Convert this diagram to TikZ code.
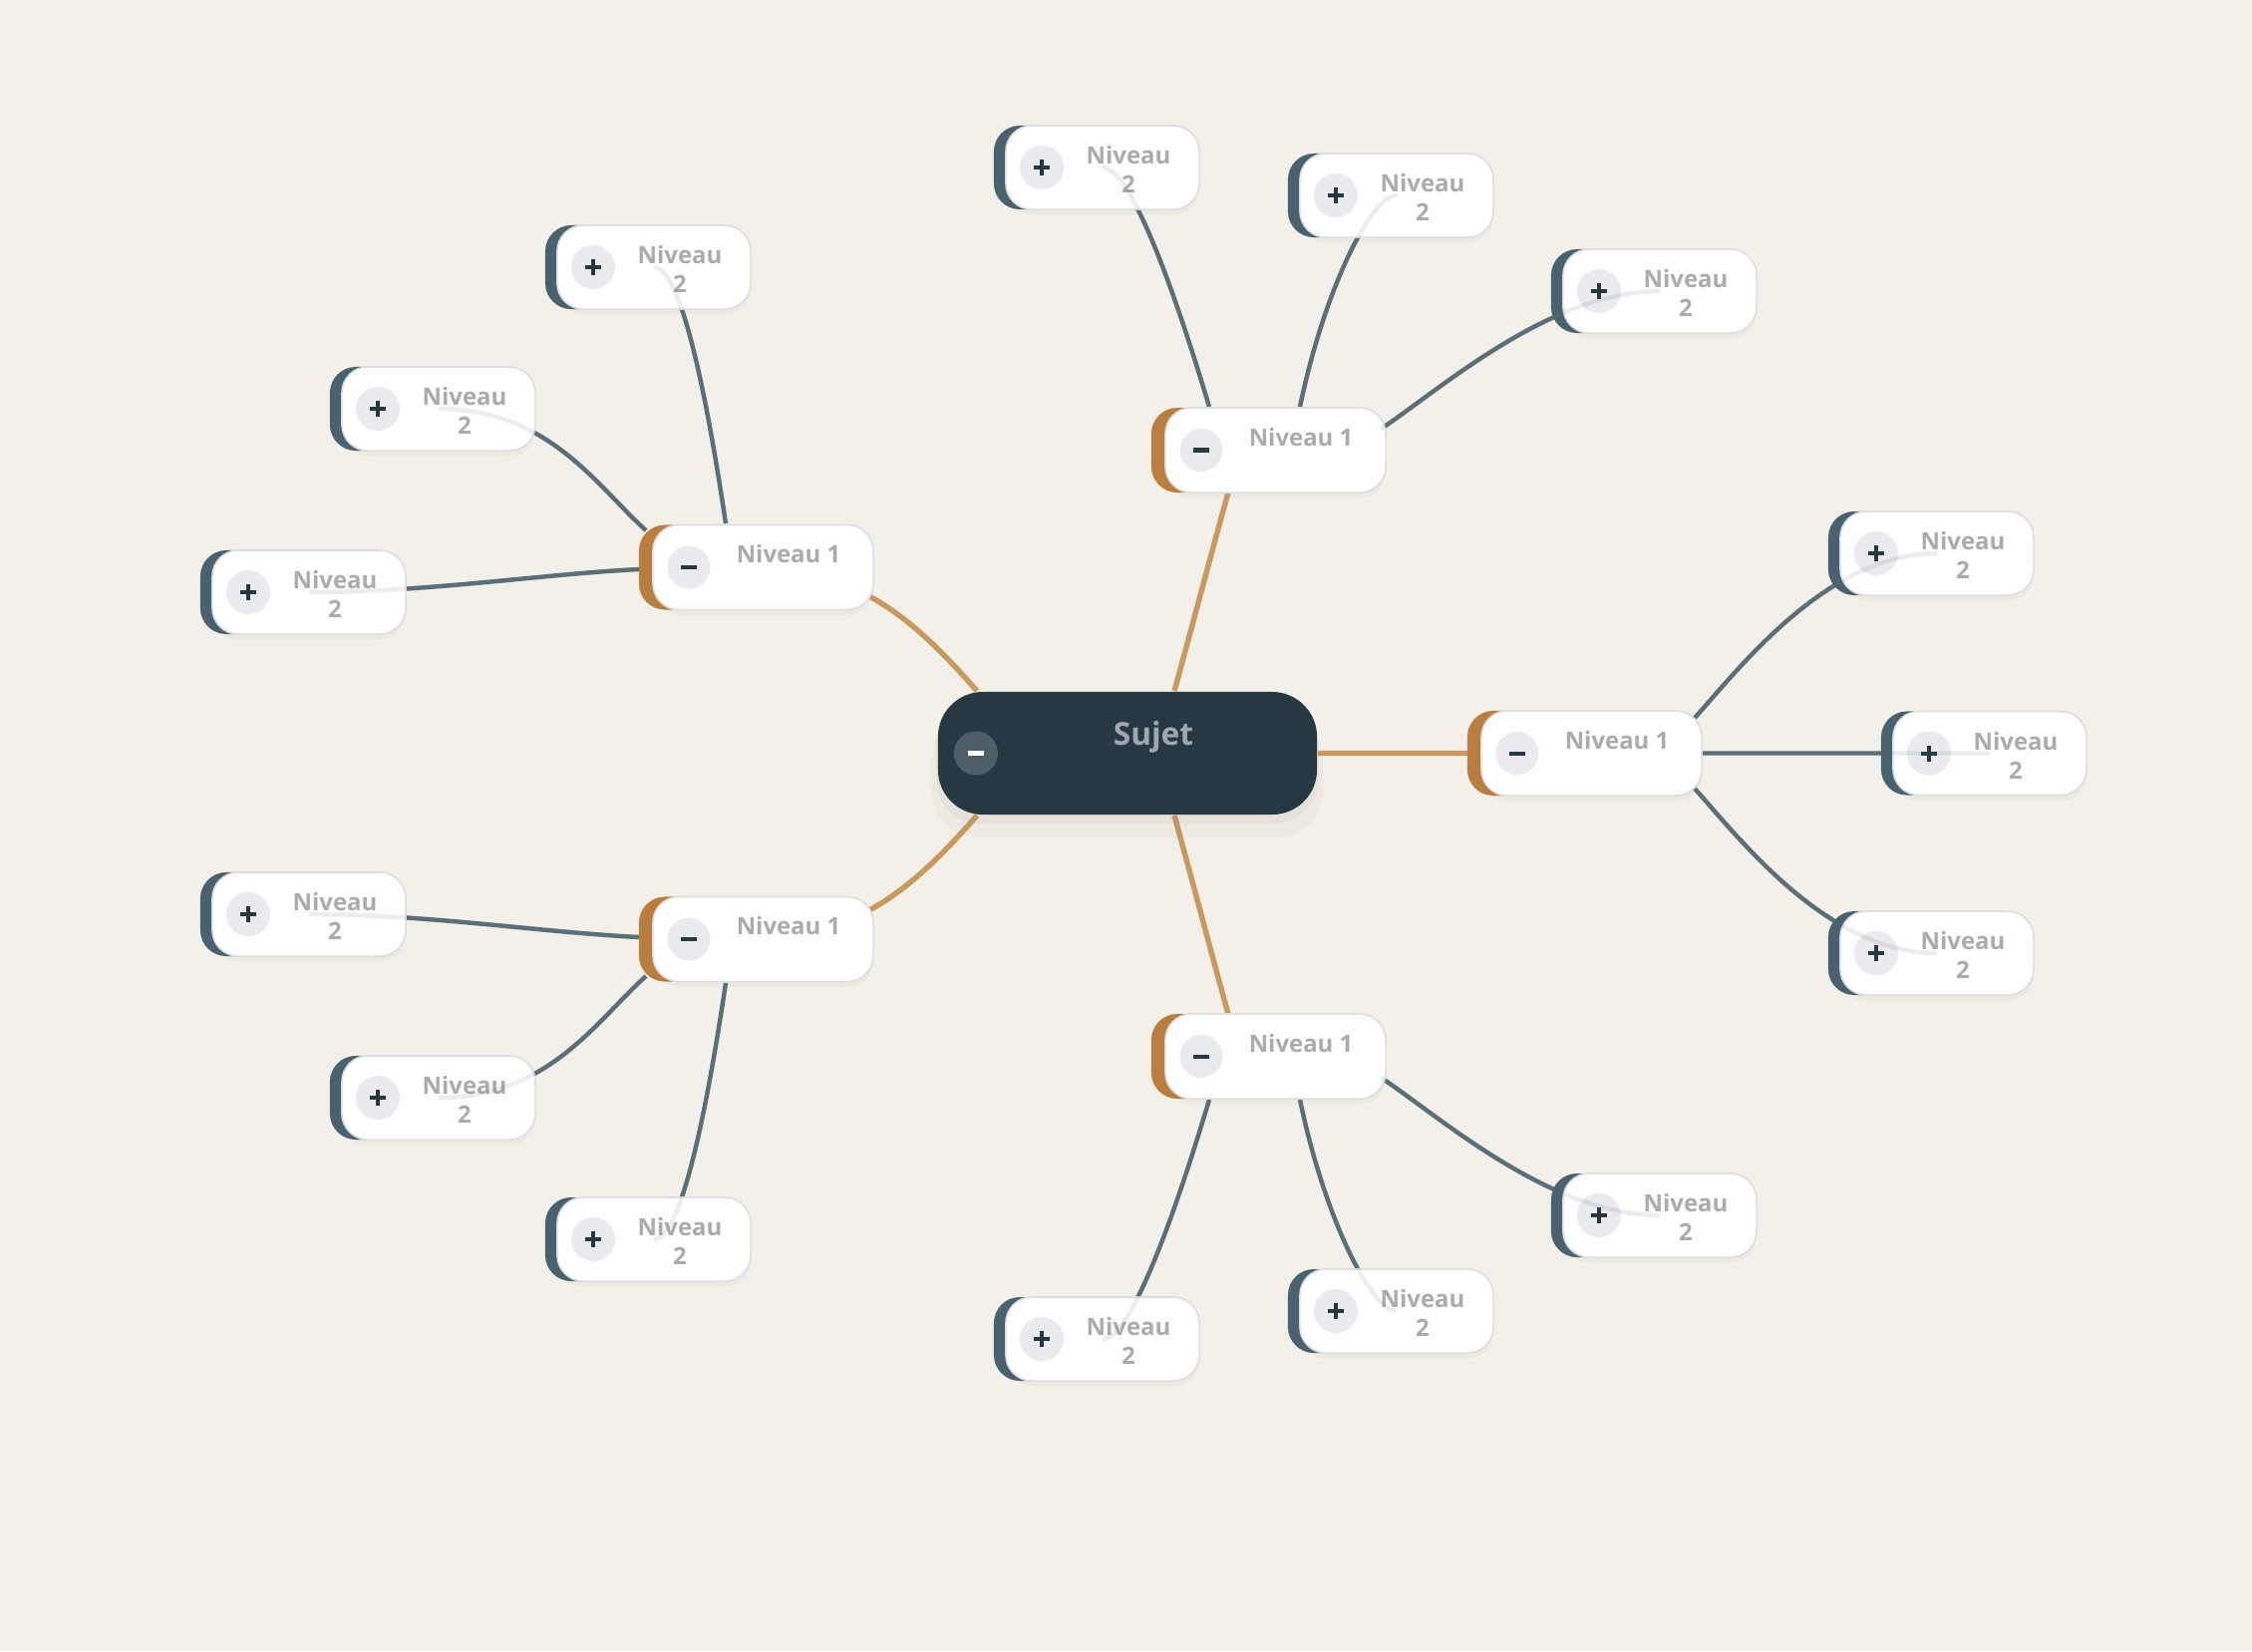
\documentclass[tikz,border=0pt]{standalone}
\usepackage{fontspec}
\setmainfont{Open Sans}
\usetikzlibrary{shadows,backgrounds}

\definecolor{fond}{HTML}{F3F0EA}
\definecolor{ardoise}{HTML}{4A626E}
\definecolor{lienardoise}{HTML}{5B6F79}
\definecolor{ocre}{HTML}{B97E3E}
\definecolor{lienocre}{HTML}{C99A60}
\definecolor{nuit}{HTML}{263842}
\definecolor{rondgris}{HTML}{E9EBEE}
\definecolor{rondsujet}{HTML}{4E5D66}
\definecolor{texte}{HTML}{ABABAB}
\definecolor{textesujet}{HTML}{A0A6AB}
\definecolor{bordure}{HTML}{DCDEE1}

% branches du niveau 1 vers le niveau 2
\newcommand{\liensdeux}{
  ([shift={(-66.5,-43.5)}]n1h.center) .. controls +(-30,-100) and +(30,0) .. (h1.center)
  ([shift={(24.5,-43.5)}]n1h.center) .. controls +(25,-120) and +(-25,0) .. (h2.center)
  ([shift={(106,-21.5)}]n1h.center) .. controls +(60,-40) and +(-110,0) .. (h3.center)
  ([shift={(-66.5,43.5)}]n1b.center) .. controls +(-30,100) and +(30,0) .. (b1.center)
  ([shift={(24.5,43.5)}]n1b.center) .. controls +(25,120) and +(-25,0) .. (b2.center)
  ([shift={(106,21.5)}]n1b.center) .. controls +(60,40) and +(-110,0) .. (b3.center)
  ([shift={(103.5,-35.5)}]n1d.center) .. controls +(45,-50) and +(-110,0) .. (d1.center)
  (n1d.east) -- (d2.center)
  ([shift={(103.5,35.5)}]n1d.center) .. controls +(45,50) and +(-110,0) .. (d3.center)
  ([shift={(-37.5,-44)}]n1hg.center) .. controls +(-15,-100) and +(30,0) .. (hg1.center)
  ([shift={(-117.5,-37)}]n1hg.center) .. controls +(-50,-45) and +(110,0) .. (hg2.center)
  ([shift={(-124.5,2)}]n1hg.center) .. controls +(-100,5) and +(120,0) .. (hg3.center)
  ([shift={(-37.5,44)}]n1bg.center) .. controls +(-15,100) and +(30,0) .. (bg1.center)
  ([shift={(-117.5,37)}]n1bg.center) .. controls +(-50,45) and +(110,0) .. (bg2.center)
  ([shift={(-124.5,-2)}]n1bg.center) .. controls +(-100,-5) and +(120,0) .. (bg3.center)
}

\begin{document}
\begin{tikzpicture}[
		x=0.01cm,y=-0.01cm,
		signe/.style={line width=1.15pt,line cap=butt},
		n0/.style={rectangle,rounded corners=0.45cm,minimum width=3.8cm,minimum height=1.23cm,fill=nuit,
			drop shadow={opacity=.05,shadow xshift=0pt,shadow yshift=-6pt,shadow scale=1.03},
			drop shadow={opacity=.07,shadow xshift=0pt,shadow yshift=-2.5pt,shadow scale=1.01},
			path picture={
				\fill[rondsujet] ([xshift=-1.52cm]path picture bounding box.center) circle (0.22cm);
				\draw[signe,white,line width=1.4pt] ([xshift=-1.6cm]path picture bounding box.center) -- ([xshift=-1.44cm]path picture bounding box.center);
			}},
		n1/.style={rectangle,rounded corners=0.26cm,minimum width=2.21cm,minimum height=0.85cm,fill=white,draw=bordure,line width=0.45pt,
			drop shadow={opacity=.06,shadow xshift=0pt,shadow yshift=-1.5pt},
			general shadow={fill=ocre,shadow xshift=-0.14cm,shadow yshift=0pt},
			path picture={
				\fill[rondgris] ([xshift=-0.745cm]path picture bounding box.center) circle (0.215cm);
				\draw[signe,nuit] ([xshift=-0.825cm]path picture bounding box.center) -- ([xshift=-0.665cm]path picture bounding box.center);
			}},
		n2/.style={rectangle,rounded corners=0.26cm,minimum width=1.94cm,minimum height=0.84cm,fill=white,draw=bordure,line width=0.45pt,
			drop shadow={opacity=.06,shadow xshift=0pt,shadow yshift=-1.5pt},
			general shadow={fill=ardoise,shadow xshift=-0.12cm,shadow yshift=0pt},
			path picture={
				\fill[rondgris] ([xshift=-0.61cm]path picture bounding box.center) circle (0.22cm);
				\draw[signe,nuit] ([xshift=-0.69cm]path picture bounding box.center) -- ([xshift=-0.53cm]path picture bounding box.center)
					([shift={(-0.61cm,-0.08cm)}]path picture bounding box.center) -- ([shift={(-0.61cm,0.08cm)}]path picture bounding box.center);
			}},
		t0/.style={xshift=0.26cm,yshift=0.165cm,text=textesujet,font=\fontsize{9}{10}\selectfont\bfseries},
		t1/.style={xshift=0.255cm,yshift=0.13cm,text=texte,font=\fontsize{6.8}{8}\selectfont\bfseries},
		t2/.style={xshift=0.26cm,yshift=-0.02cm,align=center,text=texte,font=\fontsize{6.8}{8.25}\selectfont\bfseries},
		lien1/.style={lienocre,line width=1.55pt},
		lien2/.style={lienardoise,line width=1.25pt}
		]
		\useasboundingbox (0,0) rectangle (2259,1656);
		
		\node[n0,label={[t0]center:Sujet}](sujet) at (1131,755.5){};
		
		\node[n1,label={[t1]center:Niveau 1}](n1h) at (1279.5,451.5){};
		\node[n1,label={[t1]center:Niveau 1}](n1hg) at (765.5,569){};
		\node[n1,label={[t1]center:Niveau 1}](n1d) at (1596.5,755.5){};
		\node[n1,label={[t1]center:Niveau 1}](n1bg) at (765.5,942){};
		\node[n1,label={[t1]center:Niveau 1}](n1b) at (1279.5,1059.5){};
		
		\node[n2,label={[t2]center:{Niveau\\2}}](h1) at (1106,168){};
		\node[n2,label={[t2]center:{Niveau\\2}}](h2) at (1401,196){};
		\node[n2,label={[t2]center:{Niveau\\2}}](h3) at (1665,292){};
		\node[n2,label={[t2]center:{Niveau\\2}}](d1) at (1943,555){};
		\node[n2,label={[t2]center:{Niveau\\2}}](d2) at (1996,755.5){};
		\node[n2,label={[t2]center:{Niveau\\2}}](d3) at (1943,956){};
		\node[n2,label={[t2]center:{Niveau\\2}}](b1) at (1106,1343){};
		\node[n2,label={[t2]center:{Niveau\\2}}](b2) at (1401,1315){};
		\node[n2,label={[t2]center:{Niveau\\2}}](b3) at (1665,1219){};
		\node[n2,label={[t2]center:{Niveau\\2}}](hg1) at (656,268){};
		\node[n2,label={[t2]center:{Niveau\\2}}](hg2) at (440,410){};
		\node[n2,label={[t2]center:{Niveau\\2}}](hg3) at (310,594){};
		\node[n2,label={[t2]center:{Niveau\\2}}](bg1) at (656,1243){};
		\node[n2,label={[t2]center:{Niveau\\2}}](bg2) at (440,1101){};
		\node[n2,label={[t2]center:{Niveau\\2}}](bg3) at (310,917){};
		
		\begin{pgfonlayer}{background}
		\fill[fond] (0,0) rectangle (2259,1656);
		\draw[lien1]
		([shift={(47,-62.5)}]sujet.center) .. controls +(18,-65) and +(-18,65) .. ([shift={(-47.5,42.5)}]n1h.center)
		([shift={(47,62.5)}]sujet.center) .. controls +(18,65) and +(-18,-65) .. ([shift={(-47.5,-42.5)}]n1b.center)
		([shift={(-151,-62.5)}]sujet.center) .. controls +(-35,-40) and +(40,22) .. ([shift={(106.5,29)}]n1hg.center)
		([shift={(-151,62.5)}]sujet.center) .. controls +(-35,40) and +(40,-22) .. ([shift={(106.5,-29)}]n1bg.center)
		(sujet.east) -- (n1d.west);
		\draw[lien2] \liensdeux;
		\end{pgfonlayer}
		
		% trace pale visible a travers les cartes
		\draw[lien2,draw opacity=.12] \liensdeux;
		
		\end{tikzpicture}
\end{document}
